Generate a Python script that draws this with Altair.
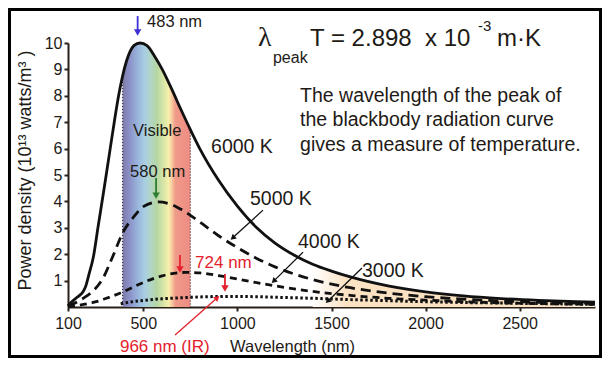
import altair as alt
import pandas as pd

# ---------------- data ----------------
# wavelength (nm) and power density (10^13 W/m^3)
wl_6000 = [100, 120, 140, 160, 180, 195, 210, 235, 260, 290, 320, 350, 370, 390, 410, 430, 450,
           483, 520, 560, 600, 650, 700, 750, 800, 900, 1000, 1100, 1200, 1300, 1400, 1500,
           1600, 1800, 2000, 2200, 2400, 2600, 2800, 2900]
pw_6000 = [0.05, 0.2, 0.32, 0.43, 0.58, 0.8, 1.2, 1.9, 3.05, 4.4, 5.8, 7.2, 8.05, 8.75, 9.3, 9.68, 9.9,
           10.0, 9.9, 9.5, 9.01, 8.27, 7.48, 6.72, 6.0, 4.8, 3.82, 3.02, 2.42, 1.97, 1.62, 1.36,
           1.14, 0.8, 0.57, 0.42, 0.32, 0.25, 0.2, 0.18]

wl_5000 = [100, 150, 200, 235, 285, 340, 390, 450, 500, 580, 650, 700, 800, 900, 1000, 1100, 1200,
           1400, 1600, 1800, 2000, 2200, 2400, 2600, 2800, 2900]
pw_5000 = [0.03, 0.2, 0.42, 0.62, 1.08, 1.95, 2.8, 3.42, 3.8, 3.98, 3.88, 3.7, 3.22, 2.7, 2.25, 1.85,
           1.52, 1.04, 0.73, 0.53, 0.39, 0.3, 0.23, 0.18, 0.15, 0.14]

wl_4000 = [100, 150, 200, 250, 300, 350, 400, 450, 500, 600, 724, 800, 900, 1000, 1200, 1400, 1600,
           1800, 2000, 2200, 2400, 2600, 2800, 2900]
pw_4000 = [0.01, 0.06, 0.12, 0.2, 0.32, 0.45, 0.6, 0.77, 0.93, 1.18, 1.31, 1.29, 1.19, 1.06, 0.8, 0.59,
           0.44, 0.33, 0.26, 0.2, 0.16, 0.13, 0.11, 0.1]

wl_3000 = [380, 400, 500, 600, 700, 800, 966, 1100, 1200, 1400, 1600, 1800, 2000, 2200, 2400, 2600,
           2800, 2900]
pw_3000 = [0.12, 0.15, 0.25, 0.31, 0.35, 0.38, 0.4, 0.39, 0.37, 0.33, 0.28, 0.24, 0.2, 0.17, 0.15,
           0.13, 0.11, 0.1]

visible_edges = [390, 750]
x_ticks = [100, 500, 1000, 1500, 2000, 2500]
y_ticks = [1, 2, 3, 4, 5, 6, 7, 8, 9, 10]

# annotation texts: text, wavelength, value, font size, colour
DARK = "#1e1a16"
RED = "#e3222d"
ann_text = ["483 nm", "T = 2.898\u00a0\u00a0x 10", "peak", "-3", "m\u00b7K",
            "The wavelength of the peak of", "the blackbody radiation curve",
            "gives a measure of temperature.", "Visible", "580 nm", "6000 K", "5000 K",
            "4000 K", "3000 K", "724 nm", "966 nm (IR)", "Wavelength (nm)"]
ann_x = [520, 1386, 1189, 2278, 2379, 1333, 1333, 1333, 446, 430, 860, 1067, 1322, 1662, 775, 376, 961]
ann_y = [10.59, 9.89, 9.24, 10.45, 9.89, 7.77, 6.84, 5.91, 6.48, 4.92, 5.84, 3.86, 2.23, 1.15, 1.49,
         -1.7, -1.7]
ann_size = [16.5, 24, 16, 15, 24, 19.5, 19.5, 19.5, 16.5, 16.5, 19.5, 19.5, 19.5, 19.5, 17, 17, 16.5]
ann_color = [DARK] * 14 + [RED, RED, DARK]

# arrows: shaft start/end, head position and direction
arr_x = [470, 568, 695, 934, 669, 1136, 1349, 1662]
arr_y = [11.02, 4.89, 1.97, 1.25, -1.06, 3.67, 2.08, 1.48]
arr_x2 = [470, 568, 695, 934, 893, 975, 1193, 1480]
arr_y2 = [10.45, 4.3, 1.5, 0.78, 0.35, 2.62, 0.98, 0.22]
head_x = [470, 568, 695, 934, 893, 975, 1193, 1480]
head_y = [10.40, 4.22, 1.42, 0.70, 0.35, 2.62, 0.98, 0.22]
head_angle = [180, 180, 180, 180, 48, 229, 225, 226]
arr_color = ["#3b2fd6", "#2f7d32", RED, RED, RED, "#111111", "#111111", "#111111"]
arr_width = [1.8, 1.8, 1.8, 1.8, 1.3, 1.3, 1.3, 1.3]
head_size = [55, 55, 55, 55, 40, 40, 40, 40]

# ---------------- tables ----------------
d6000 = pd.DataFrame({"wl": wl_6000, "pw": pw_6000})
d5000 = pd.DataFrame({"wl": wl_5000, "pw": pw_5000})
d4000 = pd.DataFrame({"wl": wl_4000, "pw": pw_4000})
d3000 = pd.DataFrame({"wl": wl_3000, "pw": pw_3000})
ann = pd.DataFrame({"t": ann_text, "wl": ann_x, "pw": ann_y, "s": ann_size, "c": ann_color})
arrows = pd.DataFrame({"wl": arr_x, "pw": arr_y, "wl2": arr_x2, "pw2": arr_y2,
                       "c": arr_color, "w": arr_width})
heads = pd.DataFrame({"wl": head_x, "pw": head_y, "a": head_angle, "c": arr_color, "s": head_size})
lam = pd.DataFrame({"t": ["\u03bb"], "wl": [1109], "pw": [9.89]})

FONT = "Liberation Sans"
AXC = "#2a2018"

xscale = alt.Scale(domain=[100, 2900], nice=False, zero=False)
yscale = alt.Scale(domain=[0, 10], nice=False)

X = alt.X("wl:Q", scale=xscale,
          axis=alt.Axis(values=x_ticks, format="d", title=None, grid=False, labelFont=FONT,
                        labelFontSize=16, labelColor=DARK, domainColor=AXC, domainWidth=2,
                        tickColor=AXC, tickWidth=2, tickSize=4, labelPadding=4, labelFlush=False))
Y = alt.Y("pw:Q", scale=yscale,
          axis=alt.Axis(values=y_ticks, grid=False, labelFont=FONT, labelFontSize=16,
                        labelColor=DARK, domainColor=AXC, domainWidth=2, tickColor=AXC,
                        tickWidth=2, tickSize=4, labelPadding=2,
                        title="Power density (10\u00b9\u00b3 watts/m\u00b3 )", titleFont=FONT,
                        titleFontSize=18, titleFontWeight="normal", titleColor=DARK,
                        titleAngle=270, titleX=-38, titleY=127, titleAlign="center",
                        titleBaseline="alphabetic"))

spectrum = alt.Gradient(
    gradient="linear", x1=0, x2=1, y1=0, y2=0,
    stops=[alt.GradientStop(offset=0.0, color="#7e7aaa"),
           alt.GradientStop(offset=0.1, color="#8a90c6"),
           alt.GradientStop(offset=0.22, color="#98b4dc"),
           alt.GradientStop(offset=0.33, color="#a9cfe2"),
           alt.GradientStop(offset=0.42, color="#b2d6c4"),
           alt.GradientStop(offset=0.5, color="#b4d6a4"),
           alt.GradientStop(offset=0.62, color="#dde8a8"),
           alt.GradientStop(offset=0.68, color="#f8f0ac"),
           alt.GradientStop(offset=0.73, color="#f6c8a0"),
           alt.GradientStop(offset=0.78, color="#f09a88"),
           alt.GradientStop(offset=1.0, color="#ee8c84")])
peach = alt.Gradient(
    gradient="linear", x1=0, x2=1, y1=0, y2=0,
    stops=[alt.GradientStop(offset=0.0, color="#ffffff"),
           alt.GradientStop(offset=0.12, color="#fbe2c2"),
           alt.GradientStop(offset=0.85, color="#fbe2c2"),
           alt.GradientStop(offset=1.0, color="#fff6ea")])

base6000 = alt.Chart(d6000)

ir_area = base6000.transform_filter("datum.wl >= 1400").mark_area(
    color=peach, interpolate="monotone").encode(x=X, y=Y)
vis_area = base6000.transform_filter("datum.wl >= 390 && datum.wl <= 750").mark_area(
    color=spectrum, interpolate="monotone").encode(x=X, y=Y)
edges = base6000.transform_filter(
    alt.FieldOneOfPredicate(field="wl", oneOf=visible_edges)).mark_rule(
    color="#333333", strokeWidth=1.2, strokeDash=[1, 2]).encode(x=X, y=Y, y2=alt.datum(0))

line6000 = base6000.mark_line(color="#111111", strokeWidth=2.8, interpolate="monotone").encode(x=X, y=Y)
line5000 = alt.Chart(d5000).mark_line(color="#111111", strokeWidth=2.8, strokeDash=[10, 6],
                                      interpolate="monotone").encode(x=X, y=Y)
line4000 = alt.Chart(d4000).mark_line(color="#111111", strokeWidth=2.8, strokeDash=[7, 5],
                                      interpolate="monotone").encode(x=X, y=Y)
line3000 = alt.Chart(d3000).mark_line(color="#111111", strokeWidth=3, strokeDash=[2.5, 2.5],
                                      interpolate="monotone").encode(x=X, y=Y)

shafts = alt.Chart(arrows).mark_rule().encode(
    x=X, y=Y, x2="wl2:Q", y2="pw2:Q",
    color=alt.Color("c:N", scale=None), strokeWidth=alt.StrokeWidth("w:Q", scale=None))
tips = alt.Chart(heads).mark_point(shape="triangle-up", filled=True, opacity=1).encode(
    x=X, y=Y, angle=alt.Angle("a:Q", scale=None), color=alt.Color("c:N", scale=None),
    size=alt.Size("s:Q", scale=None))

texts = alt.Chart(ann).mark_text(font=FONT, align="left", baseline="alphabetic").encode(
    x=X, y=Y, text="t:N", size=alt.Size("s:Q", scale=None), color=alt.Color("c:N", scale=None))
lam_text = alt.Chart(lam).mark_text(font="Liberation Serif", fontSize=28, align="left",
                                    baseline="alphabetic", color=DARK).encode(x=X, y=Y, text="t:N")

frame = alt.Chart(pd.DataFrame({"k": [0]})).mark_rect(
    filled=False, stroke="#000000", strokeWidth=3).encode(
    x=alt.value(-58.5), x2=alt.value(532.5), y=alt.value(-33.5), y2=alt.value(313.5))

chart = alt.layer(ir_area, vis_area, edges, line3000, line4000, line5000, line6000,
                  shafts, tips, texts, lam_text, frame).properties(
    width=527, height=264,
    autosize=alt.AutoSizeParams(type="none"),
    padding={"left": 60, "top": 35, "right": 7, "bottom": 51},
    background="#ffffff",
).configure_view(stroke=None)

chart.save("out.html", embed_options={"renderer": "svg", "actions": False})
